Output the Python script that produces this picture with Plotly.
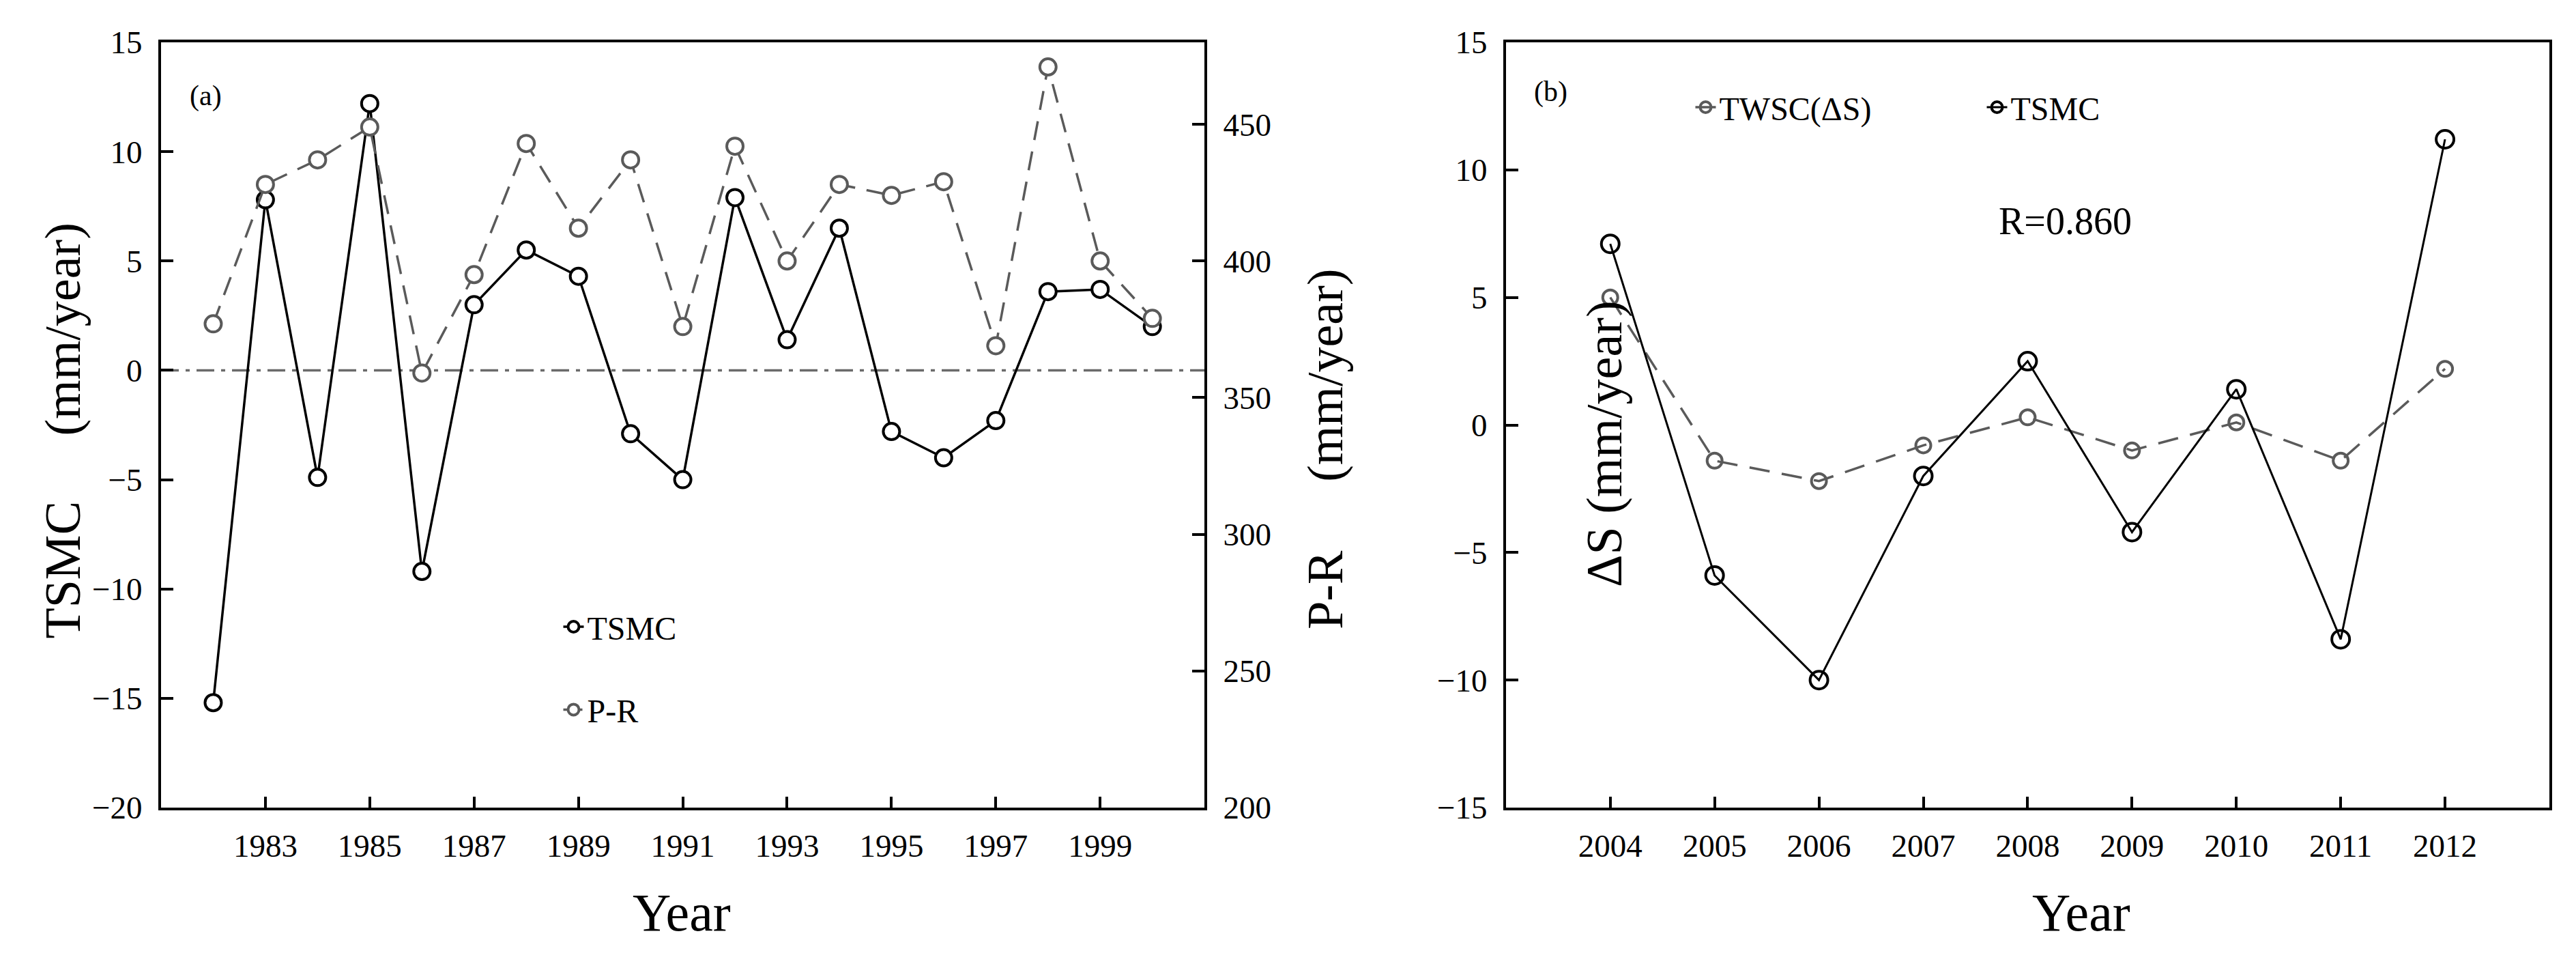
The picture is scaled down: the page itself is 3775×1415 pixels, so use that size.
import plotly.graph_objects as go

# panel (a): 1982-2000
years_a = list(range(1982, 2001))
tsmc_a = [-15.2, 7.8, -4.9, 12.2, -9.2, 3.0, 5.5, 4.3, -2.9, -5.0,
          7.9, 1.4, 6.5, -2.8, -4.0, -2.3, 3.6, 3.7, 2.0]
p_r = [377, 428, 437, 449, 359, 395, 443, 412, 437, 376,
       442, 400, 428, 424, 429, 369, 471, 400, 379]

# panel (b): 2004-2012
years_b = list(range(2004, 2013))
twsc_b = [5.0, -1.4, -2.2, -0.8, 0.3, -1.0, 0.1, -1.4, 2.2]
tsmc_b = [7.1, -5.9, -10.0, -2.0, 2.5, -4.2, 1.4, -8.4, 11.2]

ticks_a = list(range(1983, 2000, 2))
ticks_b = years_b

FONT = "Liberation Serif"
GREY = "#5a5a5a"

fig = go.Figure()

fig.add_trace(go.Scatter(
    x=years_a, y=tsmc_a, name="TSMC", mode="lines+markers",
    line=dict(color="black", width=3.5),
    marker=dict(symbol="circle", size=24, color="white",
                line=dict(color="black", width=4)),
    xaxis="x", yaxis="y", legend="legend", legendgroup="a1"))

fig.add_trace(go.Scatter(
    x=years_a, y=p_r, name="P-R", mode="lines+markers",
    line=dict(color=GREY, width=3.5, dash="28px,17px"),
    marker=dict(symbol="circle", size=24, color="white",
                line=dict(color=GREY, width=4)),
    xaxis="x", yaxis="y2", legend="legend", legendgroup="a2"))

fig.add_trace(go.Scatter(
    x=years_b, y=twsc_b, name="TWSC(\u0394S)", mode="lines+markers",
    line=dict(color=GREY, width=3.5, dash="30px,18px"),
    marker=dict(symbol="circle-open", size=22,
                line=dict(color=GREY, width=4)),
    xaxis="x2", yaxis="y3", legend="legend2"))

fig.add_trace(go.Scatter(
    x=years_b, y=tsmc_b, name="TSMC", mode="lines+markers",
    line=dict(color="black", width=3),
    marker=dict(symbol="circle-open", size=26,
                line=dict(color="black", width=4)),
    xaxis="x2", yaxis="y3", legend="legend2"))

axis_common = dict(showline=True, linecolor="black", linewidth=4,
                   ticks="inside", tickcolor="black", tickwidth=3.5,
                   showgrid=False, zeroline=False,
                   tickfont=dict(family=FONT, size=47, color="black"))

fig.update_layout(
    width=3775, height=1415,
    margin=dict(l=236, r=39, t=62, b=232),
    paper_bgcolor="white", plot_bgcolor="white",
    font=dict(family=FONT, color="black"),
    xaxis=dict(domain=[0, 0.4369], range=[1981, 2001], anchor="y",
               tickvals=ticks_a, ticklen=16, mirror=True,
               ticklabelstandoff=12, **axis_common),
    yaxis=dict(range=[-20, 15], dtick=5, anchor="x", ticklen=18,
               ticklabelstandoff=14, **axis_common),
    yaxis2=dict(range=[200, 480], tickvals=[200, 250, 300, 350, 400, 450],
                overlaying="y", side="right", anchor="x", ticklen=18,
                ticklabelstandoff=14, **axis_common),
    xaxis2=dict(domain=[0.5631, 1], range=[2003, 2013], anchor="y3",
                tickvals=ticks_b, ticklen=16, mirror=True,
                ticklabelstandoff=12, **axis_common),
    yaxis3=dict(range=[-15, 15], dtick=5, anchor="x2", ticklen=18,
                mirror=True, ticklabelstandoff=14, **axis_common),
    legend=dict(x=0.167, y=0.27, xanchor="left", yanchor="top",
                orientation="v", tracegroupgap=56, bgcolor="rgba(0,0,0,0)",
                font=dict(family=FONT, size=48, color="black")),
    legend2=dict(x=0.641, y=0.915, xanchor="left", yanchor="middle",
                 orientation="h", entrywidth=382, entrywidthmode="pixels",
                 bgcolor="rgba(0,0,0,0)",
                 font=dict(family=FONT, size=48, color="black")),
    showlegend=True,
)

# dash-dot zero line in panel (a)
fig.add_shape(type="line", xref="x domain", yref="y", x0=0, x1=1, y0=0, y1=0,
              line=dict(color="#6a6a6a", width=3.5, dash="26px,10px,6px,10px"),
              layer="below")

ann = [
    dict(text="(a)", x=0.043, y=0.93, xref="x domain", yref="y domain", size=42),
    dict(text="(b)", x=0.043, y=0.935, xref="x2 domain", yref="y3 domain", size=42),
    dict(text="R=0.860", x=0.536, y=0.766, xref="x2 domain", yref="y3 domain", size=56),
    dict(text="Year", x=0.218, y=-0.137, xref="paper", yref="paper", size=78),
    dict(text="Year", x=0.804, y=-0.137, xref="paper", yref="paper", size=78),
]
for a in ann:
    fig.add_annotation(text=a["text"], x=a["x"], y=a["y"], xref=a["xref"], yref=a["yref"],
                       showarrow=False, xanchor="center", yanchor="middle",
                       font=dict(family=FONT, size=a["size"], color="black"))

# rotated axis titles (pieces placed separately, as in the original)
titles = [
    ("TSMC", -0.0411, 0.311),
    ("(mm/year)", -0.0411, 0.625),
    ("P-R", 0.4874, 0.2846),
    ("(mm/year)", 0.4874, 0.5647),
    ("\u0394S (mm/year)", 0.6043, 0.4755),
]
for t, x, y in titles:
    fig.add_annotation(text=t, x=x, y=y, xref="paper", yref="paper", showarrow=False,
                       textangle=-90, xanchor="center", yanchor="middle",
                       font=dict(family=FONT, size=74, color="black"))

fig.write_html("out.html", config={"displayModeBar": False},
               post_script="document.body.style.margin='0';document.body.style.overflow='hidden';")
